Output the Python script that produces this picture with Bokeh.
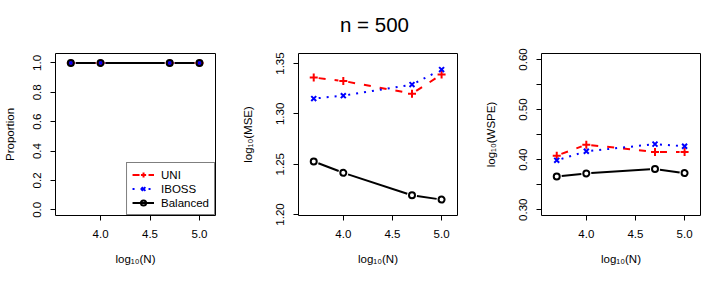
import math
from bokeh.plotting import figure
from bokeh.layouts import row
from bokeh.models import Range1d, FixedTicker, Legend, LegendItem, Label
from bokeh.embed import file_html
from bokeh.resources import INLINE

# ---- data ----
log_N = [3.699, 4.0, 4.699, 5.0]
x_ticks = [4.0, 4.5, 5.0]
x_tick_labels = ["4.0", "4.5", "5.0"]

prop_uni = [1.0, 1.0, 1.0, 1.0]
prop_iboss = [1.0, 1.0, 1.0, 1.0]
prop_bal = [1.0, 1.0, 1.0, 1.0]

mse_uni = [1.3361, 1.3327, 1.3201, 1.3391]
mse_iboss = [1.3152, 1.3181, 1.3291, 1.3440]
mse_bal = [1.2527, 1.2414, 1.2191, 1.2148]

wspe_uni = [0.408, 0.430, 0.4154, 0.4154]
wspe_iboss = [0.3987, 0.4167, 0.431, 0.4268]
wspe_bal = [0.3665, 0.3726, 0.3813, 0.3732]

prop_ticks = [0.0, 0.2, 0.4, 0.6, 0.8, 1.0]
prop_tick_labels = ["0.0", "0.2", "0.4", "0.6", "0.8", "1.0"]
mse_ticks = [1.20, 1.25, 1.30, 1.35]
mse_tick_labels = ["1.20", "1.25", "1.30", "1.35"]
wspe_ticks = [0.30, 0.35, 0.40, 0.45, 0.50, 0.55, 0.60]
wspe_tick_labels = ["0.30", "", "0.40", "", "0.50", "", "0.60"]

series_names = ["UNI", "IBOSS", "Balanced"]
title_text = "n = 500"

FONT = "Liberation Sans"
FS = "11.5px"
FRAME_W = 160
FRAME_H = 162
TOP = 53
HEIGHT = 283
XR = (3.544, 5.162)
GAP = 5.0


def gapped_segments(xs, ys, xr, yr):
    sx = FRAME_W / (xr[1] - xr[0])
    sy = FRAME_H / (yr[1] - yr[0])
    out_x, out_y = [], []
    for i in range(len(xs) - 1):
        dx = (xs[i + 1] - xs[i]) * sx
        dy = (ys[i + 1] - ys[i]) * sy
        L = math.hypot(dx, dy)
        if L <= 2 * GAP:
            continue
        f = GAP / L
        x0 = xs[i] + (xs[i + 1] - xs[i]) * f
        y0 = ys[i] + (ys[i + 1] - ys[i]) * f
        x1 = xs[i + 1] - (xs[i + 1] - xs[i]) * f
        y1 = ys[i + 1] - (ys[i + 1] - ys[i]) * f
        out_x.append([x0, x1])
        out_y.append([y0, y1])
    return out_x, out_y


def make_panel(width, left, right, yr, yticks, ylabels, ylabel, lab_standoff):
    p = figure(width=width, height=HEIGHT, output_backend="svg", toolbar_location=None,
               x_range=Range1d(*XR), y_range=Range1d(*yr),
               min_border_left=left, min_border_right=right,
               min_border_top=TOP, min_border_bottom=HEIGHT - TOP - FRAME_H)
    p.background_fill_color = "white"
    p.border_fill_color = "white"
    p.outline_line_color = "black"
    p.outline_line_width = 1
    p.xgrid.visible = False
    p.ygrid.visible = False

    for ax, ticks, labels in ((p.xaxis[0], x_ticks, x_tick_labels), (p.yaxis[0], yticks, ylabels)):
        ax.ticker = FixedTicker(ticks=ticks)
        ax.major_label_overrides = {t: l for t, l in zip(ticks, labels)}
        ax.axis_line_color = None
        ax.major_tick_out = 5
        ax.major_tick_in = 0
        ax.minor_tick_out = 0
        ax.minor_tick_in = 0
        ax.major_tick_line_color = "black"
        ax.major_label_text_font = FONT
        ax.major_label_text_font_size = FS
        ax.major_label_text_color = "black"
        ax.axis_label_text_font = FONT
        ax.axis_label_text_font_size = FS
        ax.axis_label_text_font_style = "normal"
        ax.axis_label_text_color = "black"

    p.xaxis.axis_label = "log\u2081\u2080(N)"
    p.xaxis.major_label_standoff = 9
    p.xaxis.axis_label_standoff = 12
    p.yaxis.axis_label = ylabel
    p.yaxis.major_label_orientation = "vertical"
    p.yaxis.major_label_standoff = 9
    p.yaxis.axis_label_standoff = lab_standoff
    return p


def draw_series(p, yr, ys_uni, ys_iboss, ys_bal):
    items = []
    specs = [
        (ys_uni, "red", "7 9", "cross", 8, series_names[0]),
        (ys_iboss, "blue", "2 6", "x", 7, series_names[1]),
        (ys_bal, "black", "solid", "circle", 6, series_names[2]),
    ]
    for ys, col, dash, marker, size, name in specs:
        sx, sy = gapped_segments(log_N, ys, XR, yr)
        lr = p.multi_line(sx, sy, line_color=col, line_width=2, line_dash=dash, line_cap="butt")
        mr = p.scatter(log_N, ys, marker=marker, size=size, line_color=col, line_width=2,
                       fill_color=None)
        items.append(LegendItem(label=name, renderers=[lr, mr]))
    return items


PROP_YR = (-0.039, 1.064)
MSE_YR = (1.199, 1.360)
WSPE_YR = (0.2885, 0.612)

P1_W, P2_W, P3_W = 238, 243, 245

p1 = make_panel(P1_W, 55, P1_W - 55 - FRAME_W, PROP_YR, prop_ticks, prop_tick_labels, "Proportion", 15)
items = draw_series(p1, PROP_YR, prop_uni, prop_iboss, prop_bal)
leg = Legend(items=items, location="bottom_right", margin=0, padding=5, spacing=1,
             glyph_width=22, glyph_height=13, label_height=13, label_standoff=7,
             border_line_color="black", border_line_width=1,
             background_fill_color="white", background_fill_alpha=1.0,
             label_text_font=FONT, label_text_font_size=FS, label_text_color="black")
p1.add_layout(leg, "center")

p2 = make_panel(P2_W, 59, P2_W - 59 - FRAME_W, MSE_YR, mse_ticks, mse_tick_labels, "log\u2081\u2080(MSE)", 20)
draw_series(p2, MSE_YR, mse_uni, mse_iboss, mse_bal)
# title centred at page x ~374 (canvas coordinates of the middle panel)
title = Label(x=374 - P1_W, y=24, x_units="canvas", y_units="canvas", text=title_text,
              text_align="center", text_baseline="alphabetic", text_font=FONT,
              text_font_size="20.5px", text_color="black")
p2.add_layout(title, "above")

p3 = make_panel(P3_W, 59, P3_W - 59 - FRAME_W, WSPE_YR, wspe_ticks, wspe_tick_labels, "log\u2081\u2080(WSPE)", 20)
draw_series(p3, WSPE_YR, wspe_uni, wspe_iboss, wspe_bal)

layout = row(p1, p2, p3)
open("out.html", "w").write(file_html(layout, INLINE))
